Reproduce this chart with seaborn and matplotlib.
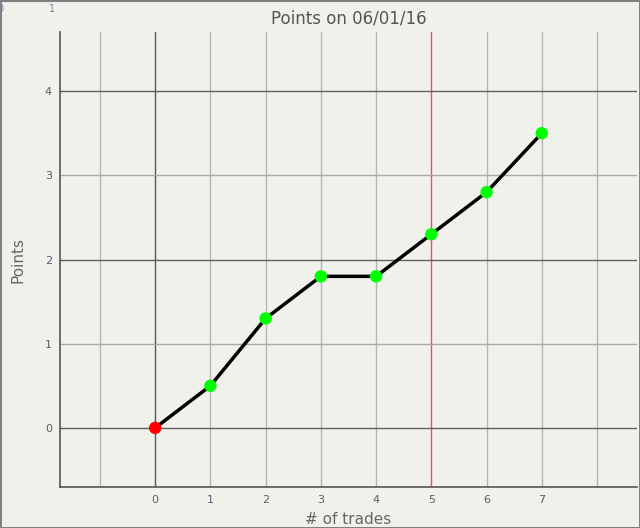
import numpy as np
import pandas as pd
import seaborn as sns
import matplotlib.pyplot as plt

# === Data ===
trades = [0, 1, 2, 3, 4, 5, 6, 7]
points = [0.0, 0.5, 1.3, 1.8, 1.8, 2.3, 2.8, 3.5]
marker_colors = ["#ff0000", "#00ff00", "#00ff00", "#00ff00", "#00ff00", "#00ff00", "#00ff00", "#00ff00"]
x_ticks = [-1, 0, 1, 2, 3, 4, 5, 6, 7, 8]
x_labels = ["", "0", "1", "2", "3", "4", "5", "6", "7", ""]
y_ticks = [0, 1, 2, 3, 4]
marked_trade = 5
title = "Points on 06/01/16"

df = pd.DataFrame({"trades": trades, "points": points, "color": marker_colors})

bg = "#f1f1ec"
sns.set_style("white")
plt.rcParams["font.family"] = ["DejaVu Sans"]

fig = plt.figure(figsize=(6.4, 5.28), dpi=100, facecolor=bg, edgecolor="#808080", linewidth=2)
ax = fig.add_axes([0.094, 0.078, 0.901, 0.861])
ax.set_facecolor(bg)

# grid lines
for x in x_ticks:
    if x == 0:
        c = "#555555"
    elif x == marked_trade:
        c = "#ff4466"
    else:
        c = "#b4b4b4"
    ax.axvline(x, color=c, lw=1.0, zorder=1)
for y in y_ticks:
    c = "#606060" if y % 2 == 0 else "#a8a8a8"
    ax.axhline(y, color=c, lw=1.0, zorder=1)

sns.lineplot(data=df, x="trades", y="points", color="black", lw=2.5, ax=ax, zorder=3)
ax.scatter(df["trades"], df["points"], c=df["color"], s=80, zorder=4, edgecolors="none")

ax.set_xlim(-1.72, 8.72)
ax.set_ylim(-0.7, 4.7)
ax.set_xticks(x_ticks)
ax.set_xticklabels(x_labels)
ax.set_yticks(y_ticks)
ax.tick_params(axis="both", length=0, labelsize=8, labelcolor="#5a5a70", pad=6)

for side in ["top", "right"]:
    ax.spines[side].set_visible(False)
for side in ["left", "bottom"]:
    ax.spines[side].set_color("#555555")
    ax.spines[side].set_linewidth(1.2)

ax.set_title(title, fontsize=12, color="#555555", pad=6)
ax.set_xlabel("# of trades", fontsize=11, color="#666666", labelpad=5)
ax.set_ylabel("Points", fontsize=11, color="#666666", labelpad=14)

# tiny scale strip at the top-left corner
mini = fig.add_axes([0.0, 0.996, 0.081, 0.002])
mini.set_facecolor("none")
mini.set_xlim(0, 1)
mini.set_yticks([])
mini.set_xticks([0, 1])
mini.xaxis.tick_bottom()
mini.tick_params(axis="x", length=0, labelsize=7, labelcolor="#8080a0", pad=1)
for side in ["left", "right", "bottom"]:
    mini.spines[side].set_visible(False)
mini.spines["top"].set_color("#808080")

fig.savefig("out.png", dpi=100, facecolor=fig.get_facecolor(), edgecolor=fig.get_edgecolor())
